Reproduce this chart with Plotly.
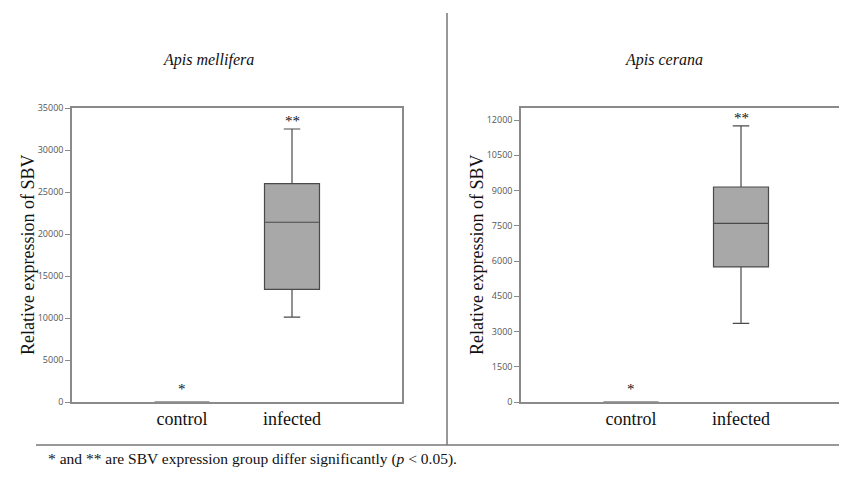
import plotly.graph_objects as go

# Page body has an 8px default margin; the figure is sized/offset to fit the 847x477 window.
OFF = 8
W, H = 847 - 2 * OFF, 477 - 2 * OFF

groups = ["control", "infected"]

# Apis mellifera (left panel)
mel_lower = [0, 10100]
mel_q1 = [0, 13400]
mel_median = [0, 21400]
mel_q3 = [0, 26000]
mel_upper = [0, 32500]
mel_marks = ["*", "**"]
mel_ticks = [0, 5000, 10000, 15000, 20000, 25000, 30000, 35000]

# Apis cerana (right panel)
cer_lower = [0, 3350]
cer_q1 = [0, 5750]
cer_median = [0, 7600]
cer_q3 = [0, 9150]
cer_upper = [0, 11750]
cer_marks = ["*", "**"]
cer_ticks = [0, 1500, 3000, 4500, 6000, 7500, 9000, 10500, 12000]

titles = ["Apis mellifera", "Apis cerana"]
ytitle = "Relative expression of SBV"
footnote = "* and ** are SBV expression group differ significantly (<i>p</i> < 0.05)."

SERIF = "Liberation Serif"
SANS = "Open Sans"
BOXFILL = "#a8a8a8"
BOXLINE = "#4a4a4a"
FRAME = "#8a8a8a"


def px(x):
    return (x - OFF) / W


def py(y):
    return 1 - (y - OFF) / H


fig = go.Figure()


def add_box(xa, ya, lower, q1, med, q3, upper):
    fig.add_trace(go.Box(
        x=groups, lowerfence=lower, q1=q1, median=med, q3=q3, upperfence=upper,
        xaxis=xa, yaxis=ya, fillcolor=BOXFILL,
        line=dict(color=BOXLINE, width=1.2),
        width=0.5, whiskerwidth=0.3, boxpoints=False, showlegend=False,
        hoverinfo="skip",
    ))


add_box("x", "y", mel_lower, mel_q1, mel_median, mel_q3, mel_upper)
add_box("x2", "y2", cer_lower, cer_q1, cer_median, cer_q3, cer_upper)

ydom = [py(402), py(108)]
x1dom = [px(72), px(402)]
x2dom = [px(521), 1.0]
x2max = -1 + (W + OFF - 521) / 110.0

xcommon = dict(type="category", showline=True, linecolor=FRAME, linewidth=1.5,
               mirror=True, ticks="", showgrid=False, zeroline=False, automargin=False,
               tickfont=dict(family=SERIF, size=18, color="#111"))
ycommon = dict(showline=True, linecolor=FRAME, linewidth=1.5, ticks="outside",
               ticklen=5, tickcolor=FRAME, tickwidth=1, showgrid=False, automargin=False,
               zeroline=False, tickfont=dict(family=SANS, size=9, color="#555"),
               tickmode="array")

fig.update_layout(
    template="none",
    width=W, height=H, margin=dict(l=0, r=0, t=0, b=0, pad=0, autoexpand=False),
    paper_bgcolor="white", plot_bgcolor="white",
    xaxis=dict(domain=x1dom, range=[-1, 2], anchor="y", **xcommon),
    yaxis=dict(domain=ydom, range=[0, 35000], anchor="x", mirror=True,
               tickvals=mel_ticks, ticktext=[str(v) for v in mel_ticks], **ycommon),
    xaxis2=dict(domain=x2dom, range=[-1, x2max], anchor="y2", **xcommon),
    yaxis2=dict(domain=ydom, range=[0, 12512], anchor="x2", mirror=False,
                tickvals=cer_ticks, ticktext=[str(v) for v in cer_ticks], **ycommon),
)

ann = []
for xr, yr, ups, marks in [("x", "y", mel_upper, mel_marks), ("x2", "y2", cer_upper, cer_marks)]:
    for g, u, m in zip(groups, ups, marks):
        ann.append(dict(x=g, y=u, xref=xr, yref=yr, text=m, showarrow=False,
                        xanchor="center", yanchor="bottom",
                        yshift=3 if m == "*" else -2,
                        font=dict(family=SERIF, size=15, color="#111")))

for xc, t in [(208, titles[0]), (664, titles[1])]:
    ann.append(dict(x=px(xc), y=py(60), xref="paper", yref="paper", text="<i>" + t + "</i>",
                    xanchor="center", yanchor="middle", showarrow=False,
                    font=dict(family=SERIF, size=16, color="#111")))
for xc in [28, 477]:
    ann.append(dict(x=px(xc), y=py(255), xref="paper", yref="paper", text=ytitle,
                    xanchor="center", yanchor="middle",
                    textangle=-90, showarrow=False, font=dict(family=SERIF, size=18, color="#111")))
ann.append(dict(x=px(46), y=py(459), xref="paper", yref="paper", text=footnote,
                xanchor="left", yanchor="middle", showarrow=False,
                font=dict(family=SERIF, size=15.5, color="#111")))
fig.update_layout(annotations=ann)

fig.add_shape(type="line", xref="paper", yref="paper", x0=px(447), x1=px(447),
              y0=py(445), y1=py(13), line=dict(color="#333", width=1))
fig.add_shape(type="line", xref="paper", yref="paper", x0=px(36), x1=1,
              y0=py(445), y1=py(445), line=dict(color="#777", width=1.5))

fig.write_html("out.html")
